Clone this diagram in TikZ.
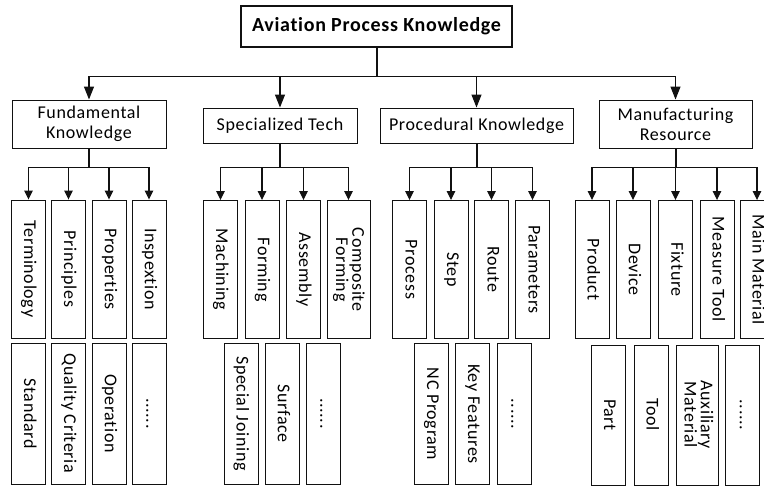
\documentclass[tikz,border=0pt]{standalone}
\usepackage{fontspec}
\setmainfont{Carlito}[Ligatures={NoCommon}, LetterSpace=3.5]
\usetikzlibrary{arrows.meta,calc}
\definecolor{Ink}{HTML}{111111}
\newcommand{\vlabel}[1]{\rotatebox{-90}{\fontsize{18}{13}\selectfont\begin{tabular}{@{}c@{}}#1\end{tabular}}}

\begin{document}
\begin{tikzpicture}[
  x=1pt, y=-1pt,
  box/.style={draw=Ink, line width=0.9pt, inner sep=0pt, align=center, font=\fontsize{18}{20}\selectfont},
  head/.style={box, minimum width=154, minimum height=48},
  leaf/.style={box, minimum width=34, minimum height=138},
  sub/.style={box, minimum width=34, minimum height=141},
  arr/.style={-{Triangle[length=9pt,width=8.5pt]}, Ink, line width=1.1pt},
  toparr/.style={-{Triangle[length=13pt,width=10pt]}, Ink, line width=1.2pt},
  stem/.style={Ink, line width=2pt}
]
\useasboundingbox (0,0) rectangle (764,489);

\node[box, line width=1.3pt, minimum width=271, minimum height=41, font=\bfseries\fontsize{20}{24}\selectfont] (R) at (376.5,26.5) {Aviation Process Knowledge};

\node[head] (F) at (89,124) {Fundamental\\Knowledge};
\node[head, minimum height=35] (S) at (280,125.5) {Specialized Tech};
\node[head, minimum width=193, minimum height=35] (P) at (476.5,125.5) {Procedural Knowledge};
\node[head, minimum width=153] (M) at (675.5,124) {Manufacturing\\Resource};

\node[leaf] (F1) at (28.5,269) {\vlabel{Terminology}};
\node[leaf] (F2) at (68.5,269) {\vlabel{Principles}};
\node[leaf] (F3) at (109,269) {\vlabel{Properties}};
\node[leaf] (F4) at (149,269) {\vlabel{Inspextion}};
\node[sub] (F5) at (28.5,413.5) {\vlabel{Standard}};
\node[sub] (F6) at (68.5,413.5) {\vlabel{Quality Criteria}};
\node[sub] (F7) at (109,413.5) {\vlabel{Operation}};
\node[sub] (F8) at (149,413.5) {\vlabel{......}};

\node[leaf] (S1) at (220.5,269.5) {\vlabel{Machining}};
\node[leaf] (S2) at (262,269.5) {\vlabel{Forming}};
\node[leaf] (S3) at (303.5,269.5) {\vlabel{Assembly}};
\node[leaf, minimum width=43] (S4) at (348.5,269.5) {\vlabel{Composite\\Forming}};
\node[sub] (S5) at (241,413.5) {\vlabel{Special Joining}};
\node[sub] (S6) at (282,413.5) {\vlabel{Surface}};
\node[sub] (S7) at (323,413.5) {\vlabel{......}};

\node[leaf] (P1) at (409.5,269.5) {\vlabel{Process}};
\node[leaf] (P2) at (451,269.5) {\vlabel{Step}};
\node[leaf] (P3) at (491.5,269.5) {\vlabel{Route}};
\node[leaf] (P4) at (532.5,269.5) {\vlabel{Parameters}};
\node[sub] (P5) at (431,414) {\vlabel{NC Program}};
\node[sub] (P6) at (472,414) {\vlabel{Key Features}};
\node[sub] (P7) at (514,414) {\vlabel{......}};

\node[leaf] (M1) at (592,269.5) {\vlabel{Product}};
\node[leaf] (M2) at (633,269.5) {\vlabel{Device}};
\node[leaf] (M3) at (675.5,269.5) {\vlabel{Fixture}};
\node[leaf] (M4) at (717,269.5) {\vlabel{Measure Tool}};
\node[leaf] (M5) at (757,269.5) {\vlabel{Main Material}};
\node[sub, minimum height=140] (M6) at (608,415) {\vlabel{Part}};
\node[sub, minimum height=140] (M7) at (651,415) {\vlabel{Tool}};
\node[sub, minimum width=42, minimum height=140] (M8) at (697,415) {\vlabel{Auxiliary\\Material}};
\node[sub, minimum height=140] (M9) at (742.5,415) {\vlabel{......}};

\coordinate (Rb) at ($(R.south)+(0,29)$);
\coordinate (lane) at (0,167.5);
\coordinate (Fb) at (F.south |- lane);
\coordinate (Sb) at (S.south |- lane);
\coordinate (Pb) at (P.south |- lane);
\coordinate (Mb) at (M.south |- lane);

\draw[stem] (R.south) -- (Rb);
\draw[toparr] (Rb) -| (F.north);
\draw[toparr] (Rb) -| (S.north);
\draw[toparr] (Rb) -| (P.north);
\draw[toparr] (Rb) -| (M.north);

\draw[stem] (F.south) -- (Fb);
\draw[stem] (S.south) -- (Sb);
\draw[stem] (P.south) -- (Pb);
\draw[stem] (M.south) -- (Mb);

\draw[arr] (Fb) -| (F1.north);
\draw[arr] (Fb) -| (F2.north);
\draw[arr] (Fb) -| (F3.north);
\draw[arr] (Fb) -| (F4.north);
\draw[arr] (Sb) -| (S1.north);
\draw[arr] (Sb) -| (S2.north);
\draw[arr] (Sb) -| (S3.north);
\draw[arr] (Sb) -| (S4.north);
\draw[arr] (Pb) -| (P1.north);
\draw[arr] (Pb) -| (P2.north);
\draw[arr] (Pb) -| (P3.north);
\draw[arr] (Pb) -| (P4.north);
\draw[arr] (Mb) -| (M1.north);
\draw[arr] (Mb) -| (M2.north);
\draw[arr] (Mb) -| (M3.north);
\draw[arr] (Mb) -| (M4.north);
\draw[arr] (Mb) -| (M5.north);
\end{tikzpicture}
\end{document}
